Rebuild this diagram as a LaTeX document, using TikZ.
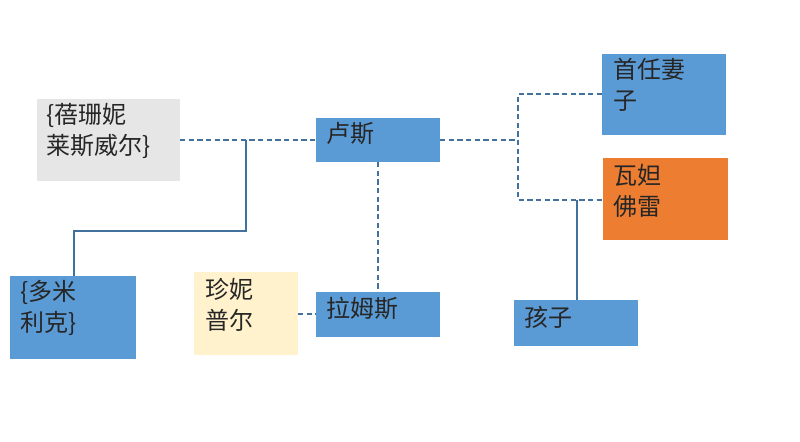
\documentclass[tikz,border=0pt]{standalone}
\usepackage{fontspec}
\newfontfamily\cjk{Noto Sans CJK SC}
\definecolor{bl}{HTML}{5B9BD5}
\definecolor{og}{HTML}{ED7D31}
\definecolor{gy}{HTML}{E7E6E6}
\definecolor{yl}{HTML}{FFF2CC}
\definecolor{ln}{HTML}{41719C}
\begin{document}
\begin{tikzpicture}[x=0.75pt,y=-0.75pt,
  box/.style={draw=none,inner sep=0pt,text=black!85,font=\cjk\fontsize{18}{23}\selectfont,align=left,anchor=west},
  dl/.style={draw=ln,line width=1.5pt,dash pattern=on 4pt off 2.5pt},
  sl/.style={draw=ln,line width=1.5pt}]
\useasboundingbox[fill=white] (0,0) rectangle (800,442);
\fill[gy] (37,99) rectangle (180,181);
\node[box] (g) at (46,131) {\{蓓珊妮\\莱斯威尔\}};
\coordinate (gR) at (180,140);
\fill[bl] (316,118) rectangle (440,162);
\node[box] (l) at (326,134) {卢斯};
\fill[bl] (602,54) rectangle (726,135);
\node[box] (w1) at (613,85) {首任妻\\子};
\fill[og] (603,158) rectangle (728,240);
\node[box] (w2) at (613,191) {瓦妲\\佛雷};
\fill[bl] (10,276) rectangle (136,359);
\node[box] (d) at (20,308) {\{多米\\利克\}};
\fill[yl] (194,272) rectangle (298,355);
\node[box] (j) at (205,305) {珍妮\\普尔};
\fill[bl] (316,292) rectangle (440,337);
\node[box] (r) at (326,308) {拉姆斯};
\fill[bl] (514,300) rectangle (638,346);
\node[box] (k) at (524,317) {孩子};
\coordinate (lL) at (316,140); \coordinate (lR) at (440,140); \coordinate (lB) at (378,162);
\coordinate (rT) at (378,292); \coordinate (rL) at (316,314); \coordinate (jR) at (298,314);
\coordinate (w1L) at (602,94); \coordinate (w2L) at (603,200);
\coordinate (dT) at (74,276); \coordinate (kT) at (577,300);
\coordinate (m) at (518,140); \coordinate (b) at (246,140);
\draw[dl] (gR) -- (lL);
\draw[sl] (b) -- (246,231) -- (74,231) -- (dT);
\draw[dl] (lB) -- (rT);
\draw[dl] (jR) -- (rL);
\draw[dl] (lR) -- (m);
\draw[dl] (w1L) -- (518,94) -- (518,200) -- (w2L);
\draw[sl] (577,200) -- (kT);
\end{tikzpicture}
\end{document}
